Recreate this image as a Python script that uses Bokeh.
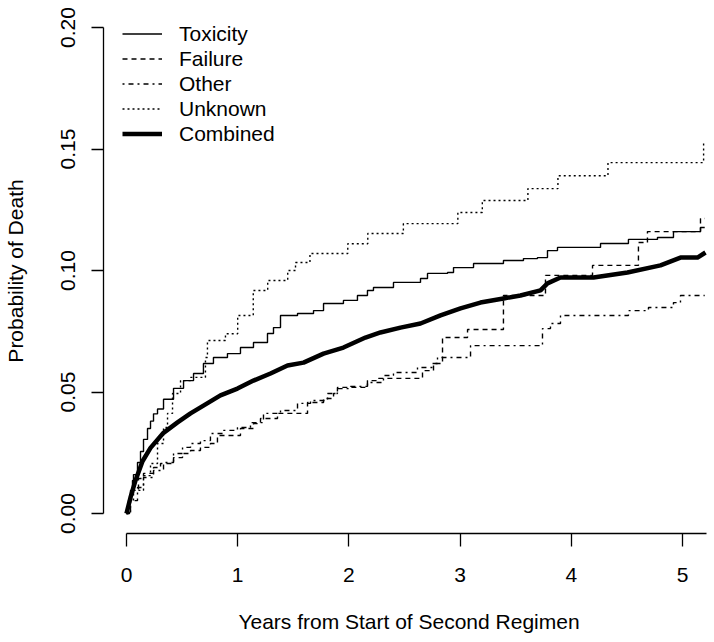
from bokeh.plotting import figure
from bokeh.models import Range1d, FixedTicker, Legend, LegendItem
from bokeh.embed import file_html
from bokeh.resources import INLINE

# ---- data (years, cumulative probability) ----
tox_t = [0, 0.009, 0.018, 0.036, 0.054, 0.063, 0.099, 0.126, 0.153, 0.189, 0.216, 0.243, 0.279, 0.333,
         0.423, 0.513, 0.603, 0.692, 0.782, 0.908, 1.025, 1.142, 1.268, 1.322, 1.385, 1.538, 1.682, 1.772,
         1.951, 2.077, 2.167, 2.221, 2.401, 2.644, 2.707, 2.887, 2.941, 3.121, 3.39, 3.57, 3.696, 3.786,
         3.876, 4.263, 4.514, 4.775, 4.919, 5.162, 5.2]
tox_v = [0, 0.0012, 0.0053, 0.0095, 0.0136, 0.0160, 0.0210, 0.0255, 0.0305, 0.0350, 0.0380, 0.0410,
         0.0430, 0.0470, 0.0515, 0.0547, 0.0576, 0.0617, 0.0642, 0.0658, 0.0683, 0.0704, 0.0741, 0.0765,
         0.0815, 0.0823, 0.0835, 0.0864, 0.0877, 0.0897, 0.0918, 0.0930, 0.0951, 0.0967, 0.0988, 0.0992,
         0.1012, 0.1029, 0.1041, 0.1049, 0.1053, 0.1082, 0.1095, 0.1111, 0.1128, 0.1136, 0.1160, 0.1177,
         0.1177]

fail_t = [0, 0.027, 0.045, 0.063, 0.108, 0.153, 0.243, 0.306, 0.423, 0.504, 0.576, 0.665, 0.755, 0.818,
          1.025, 1.142, 1.205, 1.358, 1.628, 1.772, 1.862, 1.897, 2.167, 2.266, 2.662, 2.761, 2.842, 3.067,
          3.39, 3.768, 4.191, 4.604, 4.685, 5.162, 5.2]
fail_v = [0, 0.0041, 0.0074, 0.0095, 0.0144, 0.0165, 0.0189, 0.0206, 0.0230, 0.0247, 0.0259, 0.0272,
          0.0288, 0.0321, 0.0350, 0.0370, 0.0391, 0.0412, 0.0457, 0.0473, 0.0494, 0.0519, 0.0547, 0.0556,
          0.0588, 0.0617, 0.0724, 0.0757, 0.0897, 0.0980, 0.1021, 0.1115, 0.1160, 0.1214, 0.1214]

oth_t = [0, 0.036, 0.099, 0.153, 0.243, 0.333, 0.423, 0.504, 0.576, 0.665, 0.755, 0.872, 0.998, 1.115,
         1.232, 1.385, 1.538, 1.655, 1.808, 1.897, 2.014, 2.167, 2.311, 2.401, 2.617, 2.752, 2.797, 3.094,
         3.741, 3.813, 3.903, 4.514, 4.694, 4.919, 4.982, 5.2]
oth_v = [0, 0.0053, 0.0107, 0.0148, 0.0177, 0.0210, 0.0247, 0.0272, 0.0288, 0.0300, 0.0329, 0.0342,
         0.0354, 0.0374, 0.0412, 0.0424, 0.0453, 0.0465, 0.0494, 0.0514, 0.0523, 0.0539, 0.0568, 0.0580,
         0.0601, 0.0617, 0.0642, 0.0691, 0.0761, 0.0782, 0.0815, 0.0835, 0.0848, 0.0868, 0.0897, 0.0897]

unk_t = [0, 0.036, 0.063, 0.153, 0.216, 0.279, 0.333, 0.369, 0.414, 0.486, 0.576, 0.71, 0.728, 0.89,
         1.0, 1.14, 1.27, 1.45, 1.52, 1.65, 1.99, 2.17, 2.49, 2.98, 3.2, 3.61, 3.88, 4.33, 5.19, 5.2]
unk_v = [0, 0.0053, 0.0095, 0.0156, 0.0206, 0.0288, 0.0354, 0.0412, 0.0494, 0.0547, 0.0560, 0.0642,
         0.0712, 0.0740, 0.0815, 0.0918, 0.0959, 0.1000, 0.1033, 0.1070, 0.1110, 0.1152, 0.1193, 0.1239,
         0.1288, 0.1337, 0.1390, 0.1444, 0.1527, 0.1527]

comb_t = [0, 0.036, 0.081, 0.144, 0.216, 0.333, 0.459, 0.576, 0.692, 0.845, 0.998, 1.142, 1.295, 1.448,
          1.592, 1.772, 1.951, 2.149, 2.284, 2.464, 2.644, 2.824, 3.004, 3.183, 3.39, 3.543, 3.723, 3.786,
          3.903, 4.2, 4.505, 4.802, 4.982, 5.135, 5.207]
comb_v = [0, 0.0066, 0.0136, 0.0215, 0.0270, 0.0332, 0.0375, 0.0412, 0.0444, 0.0486, 0.0514, 0.0547,
          0.0576, 0.0609, 0.0621, 0.0658, 0.0683, 0.0724, 0.0745, 0.0765, 0.0782, 0.0815, 0.0844, 0.0868,
          0.0885, 0.0897, 0.0918, 0.0947, 0.0971, 0.0971, 0.0992, 0.1021, 0.1053, 0.1053, 0.1074]

series_names = ["Toxicity", "Failure", "Other", "Unknown", "Combined"]
x_ticks = [0, 1, 2, 3, 4, 5]
y_ticks = [0.0, 0.05, 0.10, 0.15, 0.20]
y_tick_labels = ["0.00", "0.05", "0.10", "0.15", "0.20"]
x_title = "Years from Start of Second Regimen"
y_title = "Probability of Death"

FONT = "Liberation Sans"
FS = "21px"

p = figure(width=714, height=642, output_backend="svg", toolbar_location=None,
           x_range=Range1d(-0.2068, 5.288), y_range=Range1d(-0.00823, 0.20782),
           min_border_left=103, min_border_right=0, min_border_top=8, min_border_bottom=109)
p.outline_line_color = None
p.grid.visible = False
p.background_fill_color = "white"
p.border_fill_color = "white"

p.xaxis.ticker = FixedTicker(ticks=x_ticks)
p.yaxis.ticker = FixedTicker(ticks=y_ticks)
p.yaxis.major_label_overrides = {t: l for t, l in zip(y_ticks, y_tick_labels)}
p.xaxis.bounds = (0, 5.2158)
p.yaxis.bounds = (0, 0.2)
p.xaxis.axis_label = x_title
p.yaxis.axis_label = y_title

for ax in (p.xaxis[0], p.yaxis[0]):
    ax.axis_line_color = "black"
    ax.axis_line_width = 1.3
    ax.major_tick_line_color = "black"
    ax.major_tick_line_width = 1.3
    ax.minor_tick_line_color = None
    ax.major_tick_in = 0
    ax.major_label_text_font = FONT
    ax.major_label_text_font_size = FS
    ax.major_label_text_color = "black"
    ax.axis_label_text_font = FONT
    ax.axis_label_text_font_size = FS
    ax.axis_label_text_font_style = "normal"
    ax.axis_label_text_color = "black"

p.xaxis.major_tick_out = 13
p.yaxis.major_tick_out = 12
p.xaxis.major_label_standoff = 21
p.yaxis.major_label_standoff = 16
p.xaxis.axis_label_standoff = 25
p.yaxis.axis_label_standoff = 32
p.yaxis.major_label_orientation = "vertical"

thin = 1.4
r_tox = p.step(tox_t, tox_v, mode="after", line_color="black", line_width=thin)
r_fail = p.step(fail_t, fail_v, mode="after", line_color="black", line_width=thin, line_dash="5 4")
r_oth = p.step(oth_t, oth_v, mode="after", line_color="black", line_width=thin, line_dash="2 4 5 4")
r_unk = p.step(unk_t, unk_v, mode="after", line_color="black", line_width=thin, line_dash="2 3")
r_comb = p.line(comb_t, comb_v, line_color="black", line_width=4.5, line_join="round")

renderers = [r_tox, r_fail, r_oth, r_unk, r_comb]
legend = Legend(items=[LegendItem(label=n, renderers=[r]) for n, r in zip(series_names, renderers)],
                location=(19, 387), orientation="vertical",
                glyph_width=40, glyph_height=25, label_height=25, label_standoff=17,
                spacing=0, padding=0, margin=0,
                label_text_font=FONT, label_text_font_size=FS, label_text_color="black",
                border_line_color=None, background_fill_alpha=0)
p.add_layout(legend, "center")

open("out.html", "w").write(file_html(p, INLINE))
